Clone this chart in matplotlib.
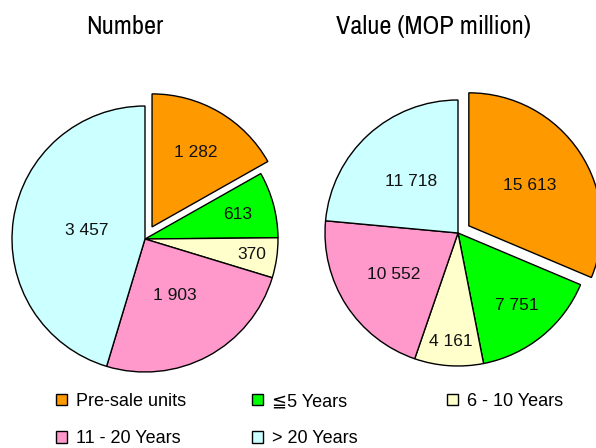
import matplotlib
matplotlib.use("Agg")
import matplotlib.pyplot as plt
from matplotlib import font_manager
from matplotlib.patches import Patch
import numpy as np

# datos
categorias = ["Pre-sale units", "\u22665 Years", "6 - 10 Years", "11 - 20 Years", "> 20 Years"]
numero = [1282, 613, 370, 1903, 3457]
valor = [15613, 7751, 4161, 10552, 11718]
titulos = ["Number", "Value (MOP million)"]
colores = ["#FF9900", "#00FF00", "#FFFFCC", "#FF99CC", "#CCFFFF"]

plt.rcParams["font.family"] = ["Liberation Sans", "DejaVu Sans"]

# fuente estrecha para los titulos, si hay alguna
estrechas = sorted({f.name for f in font_manager.fontManager.ttflist
                    if "Narrow" in f.name or "Condensed" in f.name})
if estrechas:
    fuente_titulo, tam_titulo = [estrechas[0], "DejaVu Sans"], 19
else:
    fuente_titulo, tam_titulo = ["Liberation Sans", "DejaVu Sans"], 16

W, H = 596, 448
fig = plt.figure(figsize=(W / 100, H / 100), dpi=100)
ax = fig.add_axes([0, 0, 1, 1])


def formato(v):
    return f"{v:,}".replace(",", " ")


def dibujar_pie(valores, centro, radio, sep, dist_etq):
    wedges, textos = ax.pie(valores, colors=colores, startangle=90, counterclock=False,
                            center=centro, radius=radio, explode=[sep, 0, 0, 0, 0],
                            wedgeprops=dict(edgecolor="black", linewidth=1.0))
    for w, v, d in zip(wedges, valores, dist_etq):
        ang = np.deg2rad((w.theta1 + w.theta2) / 2)
        cx, cy = w.center
        ax.text(cx + d * w.r * np.cos(ang), cy + d * w.r * np.sin(ang), formato(v),
                ha="center", va="center", fontsize=12.5, color="#111111")


dibujar_pie(numero, (145, H - 239), 133, 14, [0.65, 0.72, 0.81, 0.48, 0.44])
dibujar_pie(valor, (458, H - 233), 133, 13, [0.55, 0.70, 0.82, 0.58, 0.52])

ax.set_xlim(0, W)
ax.set_ylim(0, H)
ax.set_aspect("equal")
ax.axis("off")

# titulos
for t, x in zip(titulos, [125, 434]):
    fig.text(x / W, 1 - 26 / H, t, ha="center", va="center", fontsize=tam_titulo,
             family=fuente_titulo)

# leyenda en tres columnas
handles = [Patch(facecolor=c, edgecolor="black", linewidth=1.0) for c in colores]
columnas = [[0, 3], [1, 4], [2]]
xs = [56, 252, 447]
for idx, x in zip(columnas, xs):
    fig.legend([handles[i] for i in idx], [categorias[i] for i in idx],
               loc="upper left", bbox_to_anchor=(x / W, 1 - 393 / H),
               frameon=False, fontsize=13, handlelength=0.62, handleheight=0.62,
               handletextpad=0.5, labelspacing=1.12, borderpad=0, borderaxespad=0)

fig.savefig("out.png", dpi=100)
